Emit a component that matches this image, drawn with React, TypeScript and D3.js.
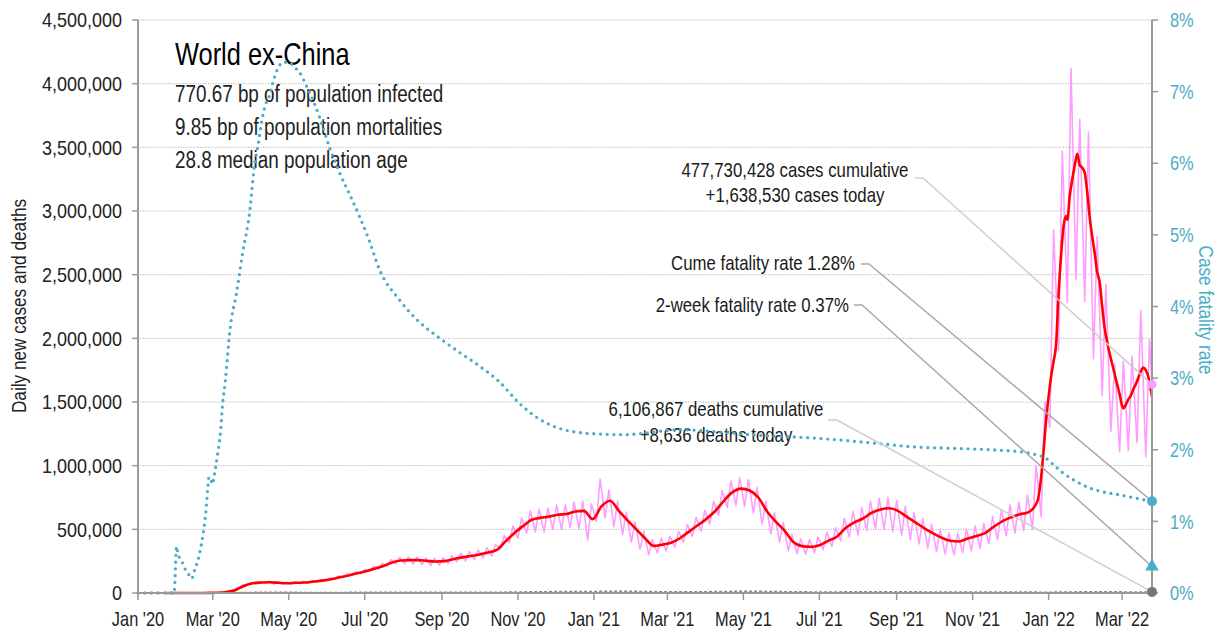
import React from "react";
import * as d3 from "d3";

const W = 1220;
const H = 633;
const FONT = "'Liberation Sans', Arial, sans-serif";
const SX = 0.82; // horizontal condensing of glyphs
const TEAL = "#4BACC6";
const PINK = "#FF9CFF";
const RED = "#FF0000";

// ---------- data ----------
const xDomain = ["2020-01-01", "2022-03-25"];
const leftTicks = [0, 500000, 1000000, 1500000, 2000000, 2500000, 3000000, 3500000, 4000000, 4500000];
const rightTicks = [0, 1, 2, 3, 4, 5, 6, 7, 8];
const monthTicks = ["2020-01-01", "2020-03-01", "2020-05-01", "2020-07-01", "2020-09-01", "2020-11-01", "2021-01-01", "2021-03-01", "2021-05-01", "2021-07-01", "2021-09-01", "2021-11-01", "2022-01-01", "2022-03-01"];
const monthLabels = ["Jan '20", "Mar '20", "May '20", "Jul '20", "Sep '20", "Nov '20", "Jan '21", "Mar '21", "May '21", "Jul '21", "Sep '21", "Nov '21", "Jan '22", "Mar '22"];

// 7-day average of daily new cases (thousands), weekly on Thursdays from 2020-01-23
const redStart = "2020-01-23";
const redWeekly = [0, 0, 0, 0.1, 0.2, 0.6,
  2, 8, 22, 55, 76, 82, 84, 80, 77, 80, 82, 90, 97, 108, 123, 138, 155, 170, 190, 212, 240, 255, 258, 258, 252, 247,
  250, 265, 280, 290, 302, 318, 338, 405, 470, 525, 575, 590, 600, 615, 620, 640, 645, 580, 680, 725, 645, 570, 500,
  430, 370, 380, 395, 430, 480, 530, 580, 640, 720, 790, 820, 805, 750, 640, 560, 490, 400, 368, 362, 375, 410, 442,
  510, 555, 585, 630, 655, 665, 645, 600, 555, 510, 470, 435, 410, 405, 428, 448, 470, 520, 565, 595, 618, 635, 720];
// 7-day average, denser readings for the Omicron wave (thousands)
const redRecent: [string, number][] = [
  ["2021-12-26", 910], ["2021-12-28", 1120], ["2021-12-30", 1360], ["2022-01-01", 1540], ["2022-01-03", 1700],
  ["2022-01-05", 1820], ["2022-01-07", 1950], ["2022-01-09", 2350], ["2022-01-11", 2650], ["2022-01-13", 2880],
  ["2022-01-15", 2960], ["2022-01-16", 2930], ["2022-01-18", 3120], ["2022-01-20", 3250], ["2022-01-22", 3360],
  ["2022-01-24", 3450], ["2022-01-26", 3360], ["2022-01-28", 3340], ["2022-01-30", 3300], ["2022-02-01", 3150],
  ["2022-02-03", 2950], ["2022-02-05", 2800], ["2022-02-07", 2670], ["2022-02-09", 2520], ["2022-02-11", 2440],
  ["2022-02-13", 2250], ["2022-02-15", 2080], ["2022-02-17", 1970], ["2022-02-19", 1880], ["2022-02-21", 1800],
  ["2022-02-23", 1720], ["2022-02-25", 1640], ["2022-02-27", 1560], ["2022-03-01", 1470], ["2022-03-02", 1450],
  ["2022-03-04", 1480], ["2022-03-06", 1520], ["2022-03-08", 1550], ["2022-03-10", 1600], ["2022-03-12", 1640],
  ["2022-03-14", 1690], ["2022-03-16", 1740], ["2022-03-18", 1770], ["2022-03-20", 1750], ["2022-03-22", 1700],
  ["2022-03-24", 1600], ["2022-03-25", 1540]];

// daily new cases (thousands): weekly Sunday lows and Wednesday highs, weeks from 2020-01-26
const pinkStart = "2020-01-26";
const pinkLow = [0, 0, 0, 0, 0.2,
  1, 5, 15, 44, 68, 73, 75, 71, 70, 71, 74, 81, 86, 96, 110, 122, 138, 152, 168, 190, 212, 228, 230, 228, 222, 216,
  218, 232, 245, 252, 262, 276, 290, 345, 395, 430, 470, 480, 478, 500, 498, 515, 505, 416, 560, 590, 520, 460, 400,
  345, 300, 315, 330, 360, 400, 445, 485, 540, 610, 670, 690, 680, 630, 540, 465, 400, 330, 310, 305, 315, 340, 365,
  410, 440, 455, 490, 505, 500, 480, 455, 420, 385, 350, 325, 305, 300, 318, 332, 350, 388, 420, 450, 470, 490, 500,
  600, 1300, 1900, 2280, 2460, 2290, 1840, 1550, 1270, 1110, 1120, 1180, 1070];
const pinkHigh = [0, 0, 0, 0.1, 0.4,
  3, 10, 28, 64, 82, 89, 92, 88, 85, 88, 90, 98, 106, 118, 134, 150, 170, 186, 208, 232, 262, 280, 284, 282, 276, 272,
  276, 292, 312, 325, 338, 356, 380, 452, 525, 590, 645, 660, 668, 690, 692, 715, 722, 700, 895, 810, 720, 635, 560,
  482, 418, 430, 445, 485, 540, 595, 650, 720, 805, 880, 905, 890, 830, 720, 630, 555, 460, 425, 420, 440, 478, 512,
  585, 640, 670, 720, 745, 752, 728, 680, 632, 585, 540, 500, 472, 470, 500, 525, 545, 600, 650, 690, 712, 770, 1000,
  1500, 2850, 3470, 4120, 3720, 3620, 2800, 2420, 1800, 1820, 1860, 2220, 1990];
const casesToday: [string, number] = ["2022-03-25", 1638.53];

// cumulative case fatality rate (%)
const cfr: [string, number][] = [
  ["2020-01-01", 0], ["2020-01-30", 0], ["2020-02-01", 0.65], ["2020-02-02", 0.55], ["2020-02-05", 0.45],
  ["2020-02-08", 0.33], ["2020-02-11", 0.25], ["2020-02-13", 0.2], ["2020-02-16", 0.35], ["2020-02-18", 0.45],
  ["2020-02-20", 0.6], ["2020-02-22", 0.8], ["2020-02-24", 1.05], ["2020-02-26", 1.45], ["2020-02-27", 1.62],
  ["2020-02-28", 1.6], ["2020-03-01", 1.52], ["2020-03-02", 1.62], ["2020-03-03", 1.72], ["2020-03-05", 1.95],
  ["2020-03-07", 2.2], ["2020-03-09", 2.65], ["2020-03-11", 2.95], ["2020-03-15", 3.7], ["2020-03-20", 4.18],
  ["2020-03-25", 4.75], ["2020-03-31", 5.37], ["2020-04-03", 5.9], ["2020-04-07", 6.32], ["2020-04-10", 6.65],
  ["2020-04-13", 6.85], ["2020-04-15", 6.92], ["2020-04-19", 7.17], ["2020-04-23", 7.35], ["2020-04-27", 7.41],
  ["2020-05-01", 7.41], ["2020-05-05", 7.35], ["2020-05-10", 7.26], ["2020-05-16", 7.05], ["2020-05-21", 6.86],
  ["2020-05-26", 6.63], ["2020-06-03", 6.21], ["2020-06-11", 5.86], ["2020-06-19", 5.56], ["2020-06-27", 5.25],
  ["2020-07-04", 4.95], ["2020-07-13", 4.51], ["2020-07-29", 4.09], ["2020-08-14", 3.78], ["2020-08-30", 3.56],
  ["2020-09-15", 3.36], ["2020-10-01", 3.17], ["2020-10-17", 2.95], ["2020-11-02", 2.65], ["2020-11-18", 2.43],
  ["2020-12-04", 2.3], ["2020-12-20", 2.24], ["2021-01-05", 2.22], ["2021-01-26", 2.21], ["2021-02-10", 2.23],
  ["2021-03-10", 2.28], ["2021-04-10", 2.25], ["2021-05-15", 2.2], ["2021-06-20", 2.17], ["2021-07-15", 2.14],
  ["2021-08-15", 2.09], ["2021-09-15", 2.04], ["2021-10-15", 2.02], ["2021-11-15", 2.0], ["2021-12-10", 1.97],
  ["2021-12-22", 1.93], ["2021-12-30", 1.88], ["2022-01-05", 1.79], ["2022-01-13", 1.67], ["2022-01-21", 1.58],
  ["2022-02-01", 1.48], ["2022-02-14", 1.41], ["2022-02-27", 1.37], ["2022-03-13", 1.32], ["2022-03-25", 1.28]];
const twoWeekCfr = 0.37;

// daily deaths, 7-day average (thousands)
const deaths: [string, number][] = [
  ["2020-01-22", 0], ["2020-03-01", 0.1], ["2020-03-15", 0.8], ["2020-04-01", 4.5], ["2020-04-15", 6.5],
  ["2020-05-01", 5], ["2020-05-15", 4.3], ["2020-06-01", 4], ["2020-06-15", 4.5], ["2020-07-01", 4.8],
  ["2020-07-15", 5.3], ["2020-08-01", 5.8], ["2020-08-15", 5.9], ["2020-09-01", 5.6], ["2020-09-15", 5.5],
  ["2020-10-01", 5.5], ["2020-10-15", 5.8], ["2020-11-01", 7.5], ["2020-11-15", 9.5], ["2020-12-01", 11],
  ["2020-12-15", 11.8], ["2021-01-01", 12], ["2021-01-15", 13.8], ["2021-01-25", 14.3], ["2021-02-10", 11.5],
  ["2021-03-01", 9], ["2021-03-15", 9.2], ["2021-04-01", 10.2], ["2021-04-15", 12], ["2021-05-01", 13],
  ["2021-05-15", 12.5], ["2021-06-01", 10.5], ["2021-06-15", 9], ["2021-07-01", 7.8], ["2021-07-15", 8.3],
  ["2021-08-01", 9.3], ["2021-08-15", 10], ["2021-09-01", 9.8], ["2021-09-15", 8.8], ["2021-10-01", 7.8],
  ["2021-10-15", 6.8], ["2021-11-01", 7], ["2021-11-15", 7], ["2021-12-01", 7.2], ["2021-12-15", 6.8],
  ["2022-01-01", 6.2], ["2022-01-15", 7.5], ["2022-02-01", 9.8], ["2022-02-15", 10.3], ["2022-03-01", 8.5],
  ["2022-03-15", 6.6], ["2022-03-25", 8.636]];

const titleText = "World ex-China";
const subLines = ["770.67 bp of population infected", "9.85 bp of population mortalities", "28.8 median population age"];
const casesNote = ["477,730,428 cases cumulative", "+1,638,530 cases today"];
const deathsNote = ["6,106,867 deaths cumulative", "+8,636 deaths today"];
const cumeNote = "Cume fatality rate 1.28%";
const twoWeekNote = "2-week fatality rate 0.37%";

// ---------- chart ----------
const parse = d3.utcParse("%Y-%m-%d");
type P = { d: Date; v: number };

type TProps = {
  x: number; y: number; size: number; fill?: string; anchor?: string; rotate?: number; dy?: string; sx?: number;
  children: React.ReactNode;
};
function T({ x, y, size, fill = "#1a1a1a", anchor = "start", rotate = 0, dy, sx = SX, children }: TProps) {
  return (
    <text
      transform={`translate(${x},${y}) rotate(${rotate}) scale(${sx},1)`}
      fontSize={size}
      fill={fill}
      textAnchor={anchor}
      dy={dy}
    >
      {children}
    </text>
  );
}

export default function App() {
  const left = 138, right = 1152, top = 20, bottom = 593;
  const x = d3.scaleUtc().domain(xDomain.map((s) => parse(s)!)).range([left, right]);
  const yL = d3.scaleLinear().domain([0, 4500000]).range([bottom, top]);
  const yR = d3.scaleLinear().domain([0, 8]).range([bottom, top]);

  const rs = parse(redStart)!;
  const redPts: P[] = redWeekly.map((v, i) => ({ d: d3.utcDay.offset(rs, 7 * i), v: v * 1000 }));
  redRecent.forEach(([s, v]) => redPts.push({ d: parse(s)!, v: v * 1000 }));

  const ps = parse(pinkStart)!;
  const pinkPts: P[] = [];
  pinkLow.forEach((lo, i) => {
    pinkPts.push({ d: d3.utcDay.offset(ps, 7 * i), v: lo * 1000 });
    pinkPts.push({ d: d3.utcDay.offset(ps, 7 * i + 3), v: pinkHigh[i] * 1000 });
  });
  pinkPts.push({ d: parse(casesToday[0])!, v: casesToday[1] * 1000 });

  const cfrPts: P[] = cfr.map(([s, v]) => ({ d: parse(s)!, v }));
  const deathPts: P[] = deaths.map(([s, v]) => ({ d: parse(s)!, v: v * 1000 }));

  const lineL = d3.line<P>().x((p) => x(p.d)).y((p) => yL(p.v));
  const lineR = d3.line<P>().x((p) => x(p.d)).y((p) => yR(p.v)).curve(d3.curveMonotoneX);
  const lineRed = d3.line<P>().x((p) => x(p.d)).y((p) => yL(p.v)).curve(d3.curveMonotoneX);

  const lastDate = parse(casesToday[0])!;
  const ex = x(lastDate);
  const pinkY = yL(casesToday[1] * 1000);
  const cfrY = yR(cfr[cfr.length - 1][1]);
  const twoY = yR(twoWeekCfr);
  const deathY = yL(deaths[deaths.length - 1][1] * 1000);
  const tri = d3.symbol().type(d3.symbolTriangle).size(80)();

  const fmt = d3.format(",");
  const axisGray = "#999";

  return (
    <svg width={W} height={H} style={{ display: "block", position: "absolute", left: 0, top: 0 }} fontFamily={FONT}>
      <rect width={W} height={H} fill="#fff" />
      {/* gridlines */}
      {leftTicks.filter((t) => t > 0).map((t) => (
        <line key={t} x1={left} x2={right} y1={yL(t)} y2={yL(t)} stroke="#b4b4b4" strokeWidth={1} strokeDasharray="1.2 1.3" />
      ))}

      {/* text block */}
      <T x={175} y={65} size={31} fill="#000">{titleText}</T>
      {subLines.map((s, i) => (
        <T key={s} x={175} y={101.5 + i * 33.3} size={23} fill="#222">{s}</T>
      ))}
      {casesNote.map((s, i) => (
        <T key={s} x={795} y={177 + i * 24.5} size={20.5} anchor="middle">{s}</T>
      ))}
      <T x={855} y={269.5} size={20.5} anchor="end">{cumeNote}</T>
      <T x={849} y={312} size={20.5} anchor="end">{twoWeekNote}</T>
      {deathsNote.map((s, i) => (
        <T key={s} x={716} y={415.5 + i * 26} size={20.5} anchor="middle">{s}</T>
      ))}

      {/* series */}
      <path d={lineL(pinkPts)!} fill="none" stroke={PINK} strokeWidth={1.6} strokeLinejoin="round" />
      <path d={lineRed(redPts)!} fill="none" stroke={RED} strokeWidth={2.6} strokeLinejoin="round" />
      <path d={lineL(deathPts)!} fill="none" stroke="#888" strokeWidth={1.6} strokeDasharray="3 2" />
      <path d={lineR(cfrPts)!} fill="none" stroke={TEAL} strokeWidth={3.3} strokeDasharray="0 6.7" strokeLinecap="round" />

      {/* axes */}
      <line x1={left} x2={right} y1={bottom} y2={bottom} stroke={axisGray} strokeWidth={2} />
      <line x1={left} x2={left} y1={top} y2={bottom} stroke={axisGray} strokeWidth={2} />
      <line x1={right} x2={right} y1={top} y2={bottom} stroke={axisGray} strokeWidth={2} />
      {leftTicks.map((t) => (
        <g key={t}>
          <line x1={left - 6} x2={left} y1={yL(t)} y2={yL(t)} stroke={axisGray} strokeWidth={1.5} />
          <T x={122} y={yL(t)} dy="0.36em" size={20} sx={0.9} fill="#222" anchor="end">{fmt(t)}</T>
        </g>
      ))}
      {rightTicks.map((t) => (
        <g key={t}>
          <line x1={right} x2={right + 6} y1={yR(t)} y2={yR(t)} stroke={axisGray} strokeWidth={1.5} />
          <T x={1170} y={yR(t)} dy="0.36em" size={20} fill={TEAL}>{t}%</T>
        </g>
      ))}
      {monthTicks.map((m, i) => {
        const tx = x(parse(m)!);
        return (
          <g key={m}>
            <line x1={tx} x2={tx} y1={bottom} y2={bottom + 7} stroke={axisGray} strokeWidth={1.5} />
            <T x={tx} y={626} size={20} fill="#222" anchor="middle">{monthLabels[i]}</T>
          </g>
        );
      })}
      <T x={26} y={306} rotate={-90} size={21} fill="#222" anchor="middle">Daily new cases and deaths</T>
      <T x={1199} y={310} rotate={90} size={21} fill={TEAL} anchor="middle">Case fatality rate</T>

      {/* leader lines */}
      <polyline points={`915,178 923,178 ${ex},${pinkY}`} fill="none" stroke="#cfcfcf" strokeWidth={1.5} />
      <polyline points={`861,264 869,264 ${ex},${cfrY}`} fill="none" stroke="#aaa" strokeWidth={1.5} />
      <polyline points={`854,305 862,305 ${ex},${twoY}`} fill="none" stroke="#aaa" strokeWidth={1.5} />
      <polyline points={`828,420 837,420 ${ex},${deathY}`} fill="none" stroke="#cfcfcf" strokeWidth={1.5} />

      {/* end markers */}
      <circle cx={ex} cy={pinkY} r={4.5} fill={PINK} />
      <circle cx={ex} cy={cfrY} r={5} fill={TEAL} />
      <path d={tri!} transform={`translate(${ex},${twoY})`} fill={TEAL} />
      <circle cx={ex} cy={deathY} r={5} fill="#777" />
    </svg>
  );
}
